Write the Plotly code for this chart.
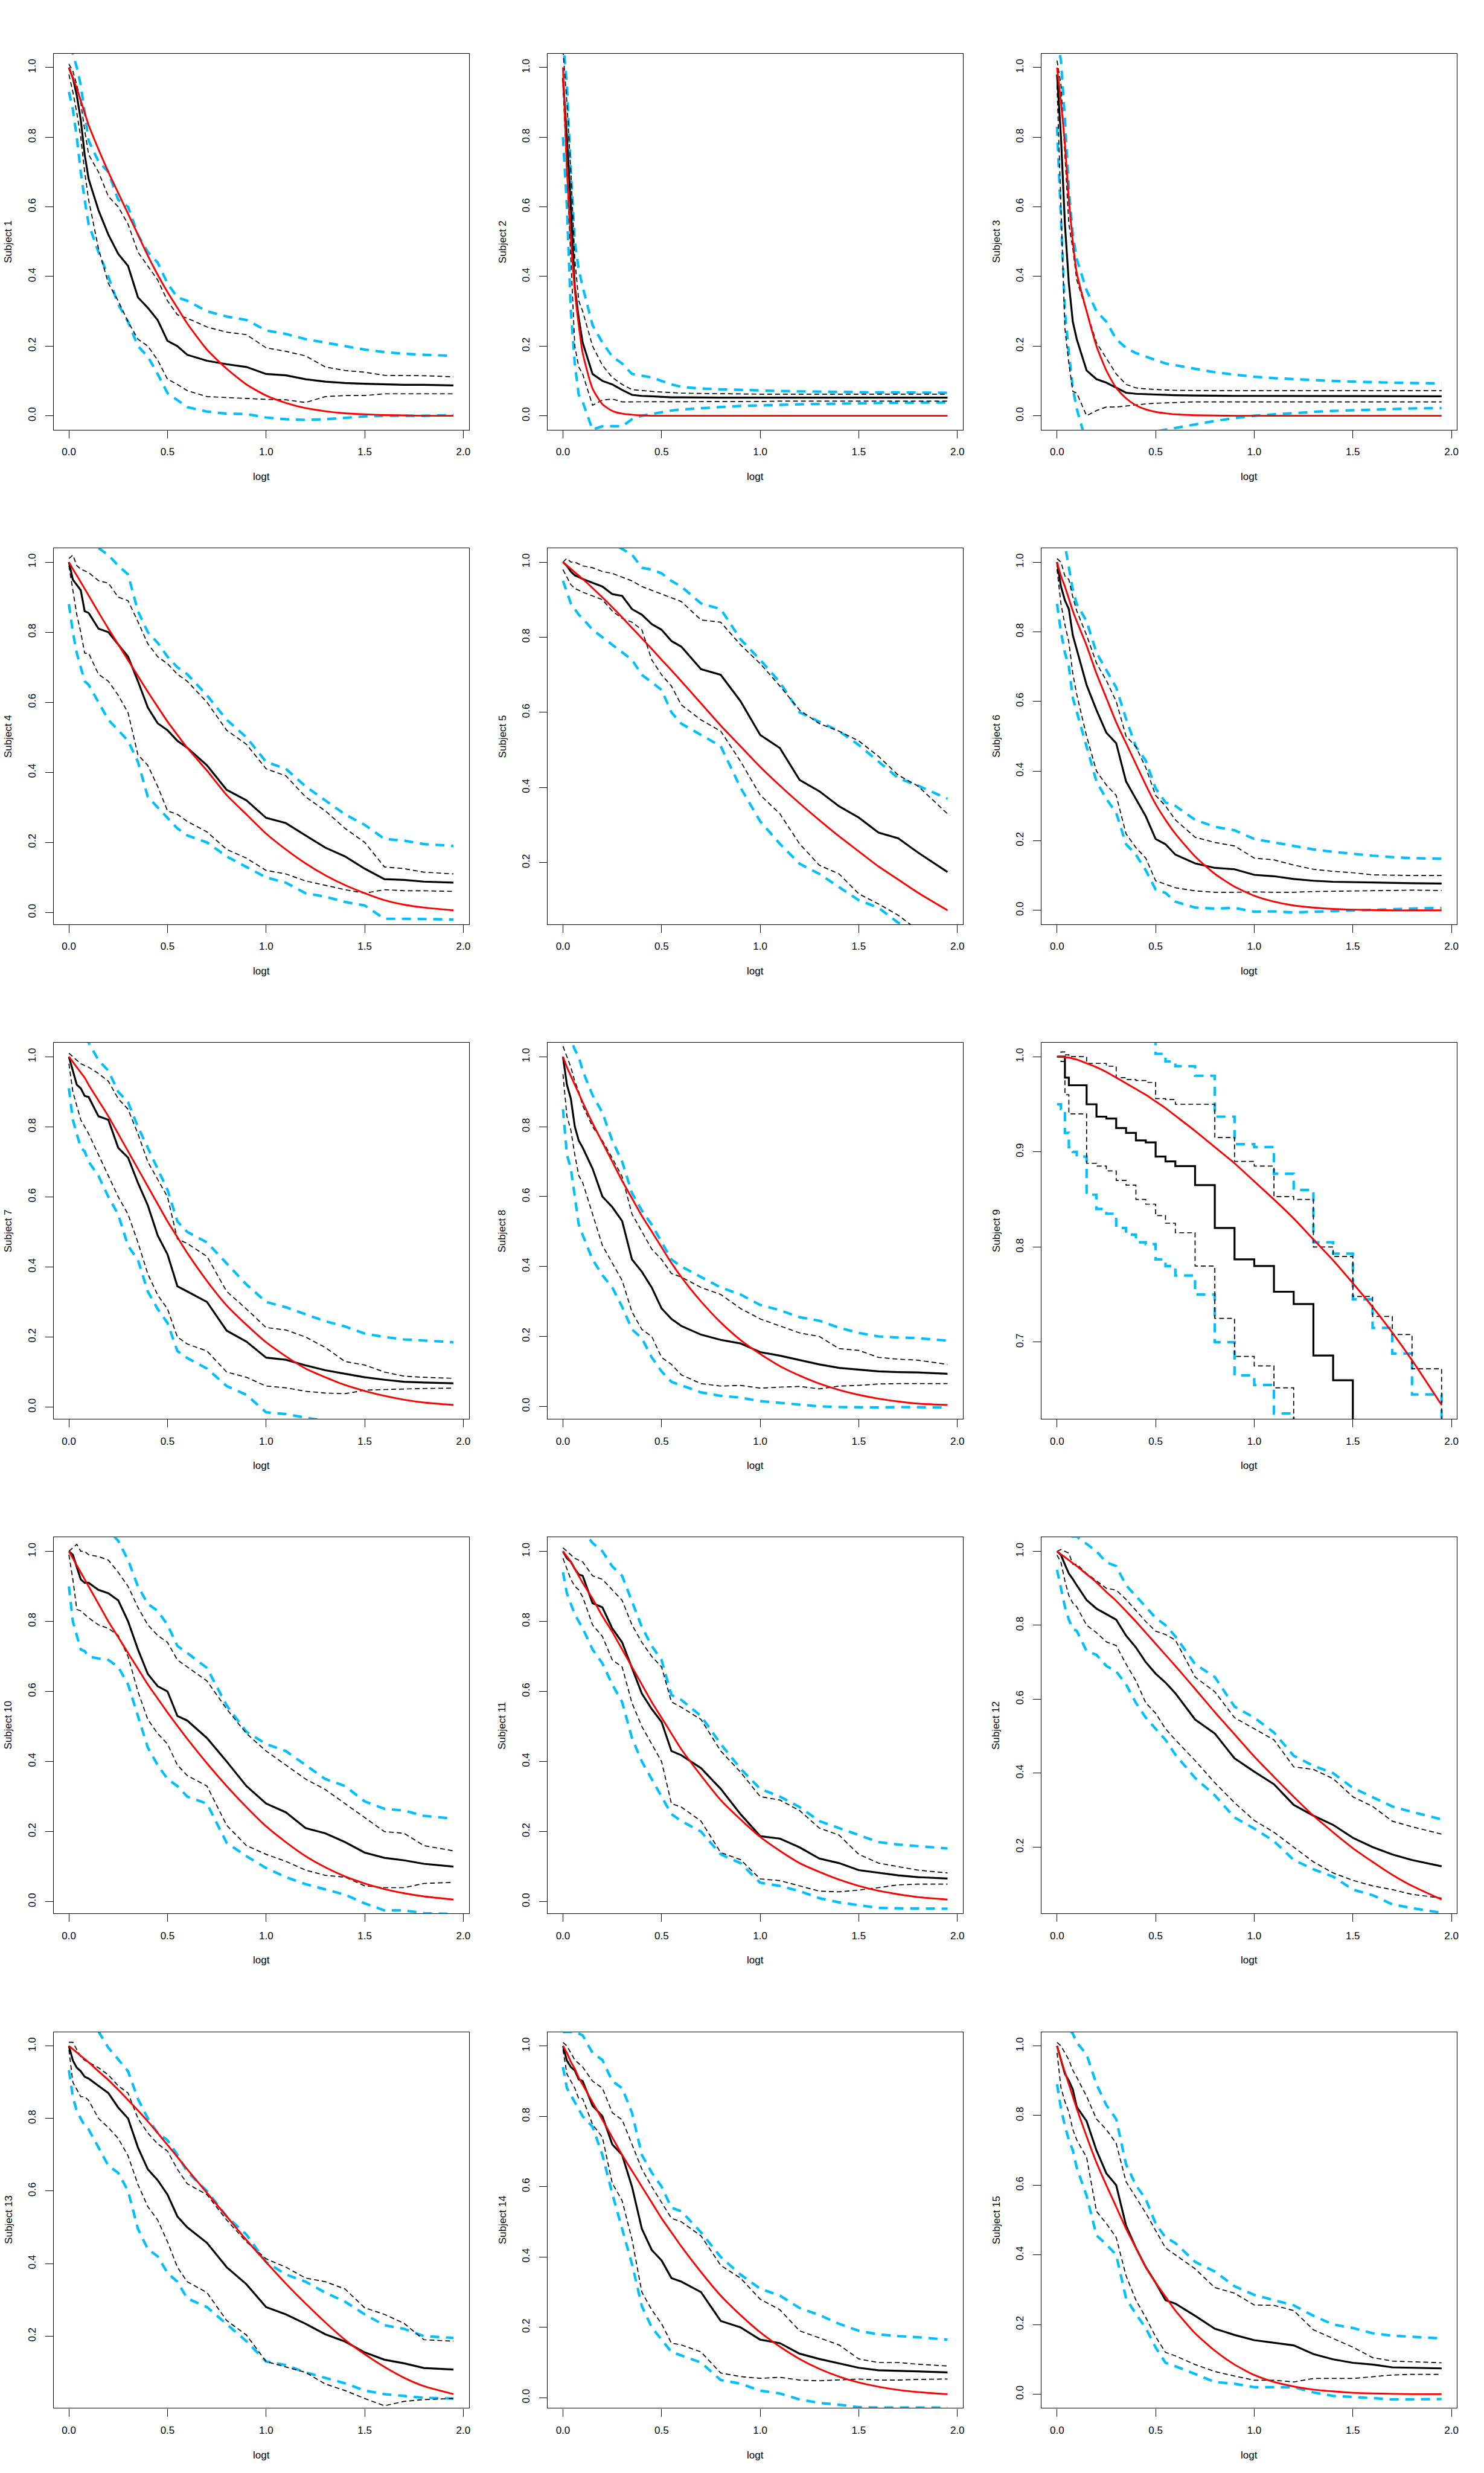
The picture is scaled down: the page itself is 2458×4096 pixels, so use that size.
import plotly.graph_objects as go

# ---------------- data ----------------
X = [0, .02, .04, .06, .08, .10, .15, .20, .25, .30, .35, .40, .45, .50, .55,
     .60, .70, .80, .90, 1.0, 1.1, 1.2, 1.3, 1.4, 1.5, 1.6, 1.7, 1.8, 1.95]
X_TICKS = [0.0, 0.5, 1.0, 1.5, 2.0]
Y_TICKS = [0.0, 0.2, 0.4, 0.6, 0.8, 1.0]
Y_TICKS_FINE = [0.6, 0.7, 0.8, 0.9, 1.0]

# Subject 1
km1 = [1.0, .97, .92, .85, .75, .68, .59, .52, .465, .43, .34, .31, .275, .215, .2, .175, .158, .148, .14, .12, .116, .105, .098, .094, .092, .09, .089, .089, .087]
up1 = [1.01, .99, .95, .9, .82, .75, .7, .63, .6, .55, .47, .43, .39, .33, .29, .28, .255, .24, .233, .195, .185, .172, .14, .13, .125, .116, .115, .115, .112]
lo1 = [.98, .93, .87, .8, .7, .62, .48, .38, .33, .27, .22, .2, .16, .105, .09, .072, .055, .052, .05, .047, .046, .038, .055, .058, .058, .063, .063, .063, .063]
bu1 = [1.06, 1.04, 1.0, .95, .87, .79, .73, .70, .62, .6, .52, .47, .44, .38, .34, .33, .3, .285, .275, .245, .235, .22, .21, .2, .19, .183, .178, .175, .172]
bl1 = [.93, .88, .8, .7, .62, .55, .47, .4, .32, .27, .2, .17, .12, .065, .045, .025, .012, .006, .005, -.005, -.01, -.012, -.01, -.006, -.002, 0, 0, 0, .002]
fit1 = [1.0, .97, .94, .905, .87, .835, .765, .7, .64, .58, .52, .46, .405, .355, .31, .265, .19, .135, .09, .058, .037, .022, .013, .007, .004, .002, .001, 0, 0]

# Subject 2
km2 = [.97, .8, .6, .37, .28, .21, .12, .1, .09, .074, .06, .057, .056, .054, .053, .053, .052, .052, .052, .052, .052, .052, .052, .052, .052, .052, .052, .052, .052]
up2 = [1.05, .9, .7, .45, .33, .3, .2, .145, .11, .09, .075, .072, .07, .068, .066, .065, .064, .063, .063, .062, .062, .062, .062, .062, .062, .062, .062, .062, .062]
lo2 = [.95, .7, .45, .2, .14, .12, .03, .045, .048, .04, .04, .04, .04, .04, .04, .04, .04, .041, .041, .041, .042, .042, .042, .042, .042, .042, .042, .042, .042]
bu2 = [1.08, .95, .7, .5, .42, .37, .26, .21, .17, .15, .12, .115, .11, .1, .09, .083, .078, .076, .074, .072, .071, .07, .069, .068, .068, .067, .067, .066, .066]
bl2 = [.8, .6, .3, .15, .06, .04, -.04, -.03, -.03, -.03, -.01, 0, .005, .01, .015, .018, .022, .025, .028, .03, .031, .033, .034, .035, .036, .037, .037, .038, .038]
fit2 = [1.0, .71, .51, .36, .26, .18, .078, .033, .014, .006, .003, .001, 0, 0, 0, 0, 0, 0, 0, 0, 0, 0, 0, 0, 0, 0, 0, 0, 0]

# Subject 3
km3 = [.98, .8, .55, .38, .27, .22, .13, .105, .095, .08, .066, .063, .062, .06, .06, .059, .058, .057, .057, .057, .057, .057, .056, .056, .056, .056, .056, .056, .056]
up3 = [1.02, .95, .75, .55, .48, .39, .3, .21, .165, .12, .09, .08, .077, .075, .074, .073, .072, .072, .072, .072, .072, .072, .072, .072, .072, .072, .072, .072, .072]
lo3 = [.95, .6, .25, .15, .07, .065, .0, .015, .025, .025, .028, .032, .034, .036, .037, .038, .04, .04, .04, .04, .04, .04, .04, .04, .04, .04, .04, .04, .04]
bu3 = [1.08, 1.02, .85, .65, .52, .45, .36, .3, .27, .22, .195, .18, .17, .16, .15, .145, .135, .125, .118, .112, .108, .105, .102, .1, .098, .096, .095, .094, .093]
bl3 = [.83, .55, .3, .18, .08, .02, -.08, -.08, -.075, -.07, -.065, -.06, -.05, -.045, -.04, -.035, -.025, -.015, -.007, 0, .004, .008, .011, .014, .016, .018, .02, .021, .022]
fit3 = [1.0, .9, .78, .62, .5, .41, .3, .2, .13, .08, .05, .03, .018, .011, .007, .004, .0015, .0005, 0, 0, 0, 0, 0, 0, 0, 0, 0, 0, 0]

# Subject 4
km4 = [1.0, .95, .935, .92, .86, .855, .81, .8, .765, .73, .66, .585, .54, .52, .49, .47, .42, .35, .32, .27, .255, .22, .185, .16, .125, .095, .093, .088, .085]
up4 = [1.01, 1.02, .99, .98, .975, .97, .947, .94, .9, .89, .83, .767, .73, .71, .68, .66, .6, .52, .48, .41, .39, .33, .29, .24, .2, .13, .125, .115, .11]
lo4 = [.99, .92, .85, .8, .74, .74, .68, .66, .62, .57, .45, .42, .36, .29, .28, .26, .23, .18, .155, .12, .11, .09, .078, .065, .055, .065, .062, .062, .06]
bu4 = [1.06, 1.06, 1.05, 1.05, 1.05, 1.05, 1.04, 1.02, .99, .965, .86, .8, .77, .73, .7, .68, .62, .55, .5, .43, .41, .36, .32, .28, .25, .21, .205, .195, .19]
bl4 = [.88, .8, .74, .7, .66, .65, .6, .55, .52, .49, .43, .33, .3, .27, .24, .22, .2, .16, .13, .1, .085, .055, .045, .03, .02, -.018, -.018, -.019, -.02]
fit4 = [1.0, .98, .962, .943, .924, .905, .857, .81, .765, .72, .675, .63, .587, .545, .507, .47, .405, .335, .28, .225, .18, .14, .106, .078, .055, .035, .022, .014, .006]

# Subject 5
km5 = [1.0, .99, .975, .965, .96, .955, .945, .935, .915, .91, .875, .86, .835, .82, .79, .775, .715, .7, .63, .54, .505, .42, .39, .35, .32, .28, .265, .227, .175]
up5 = [1.0, 1.01, 1.0, 1.0, .995, .99, .985, .975, .97, .96, .95, .935, .925, .915, .905, .895, .846, .84, .78, .73, .67, .606, .57, .55, .524, .483, .433, .404, .33]
lo5 = [.98, .96, .94, .93, .925, .92, .91, .9, .87, .85, .84, .82, .74, .7, .67, .62, .58, .55, .47, .38, .33, .25, .193, .17, .117, .09, .06, .02, 0.0]
bu5 = [1.1, 1.1, 1.1, 1.1, 1.1, 1.1, 1.08, 1.07, 1.05, 1.035, 1.02, .985, .98, .97, .95, .935, .89, .875, .795, .74, .68, .6, .575, .55, .513, .47, .425, .405, .37]
bl5 = [.95, .92, .89, .875, .86, .85, .82, .8, .78, .76, .74, .7, .68, .66, .6, .57, .54, .51, .4, .31, .25, .197, .17, .135, .1, .08, .04, .02, 0.0]
fit5 = [1.0, .991, .982, .973, .964, .955, .931, .906, .88, .853, .825, .797, .769, .74, .712, .683, .624, .565, .51, .455, .405, .358, .313, .27, .23, .19, .155, .12, .073]

# Subject 6
km6 = [1.0, .93, .89, .865, .79, .75, .647, .575, .51, .48, .37, .32, .27, .205, .19, .16, .135, .122, .118, .102, .098, .09, .085, .082, .081, .079, .078, .078, .077]
up6 = [1.01, 1.0, .96, .95, .9, .86, .79, .71, .66, .6, .5, .47, .41, .33, .3, .26, .21, .195, .185, .15, .145, .13, .118, .112, .108, .102, .101, .1, .1]
lo6 = [.98, .88, .82, .77, .68, .62, .5, .4, .36, .33, .22, .18, .15, .085, .075, .065, .056, .052, .052, .053, .052, .052, .054, .055, .056, .057, .058, .058, .057]
bu6 = [1.06, 1.06, 1.05, .98, .92, .88, .83, .74, .69, .64, .55, .47, .43, .35, .31, .3, .26, .24, .23, .205, .195, .185, .175, .168, .162, .157, .153, .15, .148]
bl6 = [.88, .8, .74, .7, .61, .57, .47, .37, .32, .28, .19, .16, .115, .06, .05, .025, .008, .005, .007, -.004, -.003, -.006, -.004, -.002, 0, .002, .003, .005, .007]
fit6 = [1.0, .96, .93, .895, .86, .83, .76, .68, .61, .54, .48, .42, .36, .305, .26, .22, .155, .105, .068, .042, .025, .014, .008, .004, .002, .001, 0, 0, 0]

# Subject 7
km7 = [1.0, .96, .92, .91, .888, .885, .83, .82, .74, .712, .64, .576, .49, .436, .345, .33, .3, .218, .187, .141, .135, .119, .105, .095, .085, .078, .072, .07, .068]
up7 = [1.01, 1.0, .99, .98, .975, .97, .952, .93, .88, .85, .78, .7, .65, .6, .48, .467, .43, .33, .28, .227, .22, .2, .17, .13, .12, .1, .088, .085, .082]
lo7 = [.98, .9, .86, .82, .8, .78, .72, .66, .6, .55, .47, .38, .32, .28, .2, .18, .16, .1, .085, .06, .055, .045, .04, .038, .048, .05, .052, .053, .054]
bu7 = [1.06, 1.06, 1.06, 1.05, 1.05, 1.04, .99, .96, .9, .87, .8, .74, .68, .62, .53, .5, .47, .41, .35, .3, .285, .265, .245, .23, .21, .2, .193, .19, .185]
bl7 = [.91, .82, .78, .74, .73, .7, .66, .6, .55, .46, .42, .33, .28, .24, .16, .14, .11, .06, .035, -.015, -.02, -.03, -.04, -.05, -.05, -.05, -.05, -.05, -.05]
fit7 = [1.0, .985, .97, .955, .94, .92, .875, .83, .78, .73, .68, .63, .58, .53, .485, .44, .36, .29, .235, .185, .145, .11, .085, .063, .046, .032, .021, .013, .006]

# Subject 8
km8 = [1.0, .92, .88, .8, .76, .74, .68, .6, .57, .53, .42, .385, .34, .28, .25, .23, .205, .19, .18, .155, .145, .133, .12, .11, .105, .1, .098, .097, .093]
up8 = [1.03, 1.0, .97, .93, .9, .86, .8, .76, .71, .657, .55, .5, .45, .42, .38, .37, .34, .32, .28, .25, .23, .21, .2, .165, .16, .14, .135, .132, .12]
lo8 = [.95, .83, .79, .72, .66, .64, .55, .46, .41, .36, .27, .22, .2, .14, .12, .09, .065, .058, .06, .052, .055, .057, .05, .058, .06, .064, .065, .065, .065]
bu8 = [1.06, 1.06, 1.05, 1.02, 1.0, .96, .89, .84, .76, .7, .61, .56, .52, .47, .42, .4, .37, .34, .32, .29, .275, .255, .245, .225, .21, .2, .197, .195, .188]
bl8 = [.85, .72, .68, .6, .52, .49, .42, .375, .34, .285, .22, .195, .14, .1, .07, .06, .04, .03, .025, .015, .01, .005, 0, -.002, -.003, -.003, -.002, -.002, -.003]
fit8 = [1.0, .97, .945, .92, .895, .87, .81, .755, .7, .645, .595, .545, .5, .455, .41, .37, .3, .24, .19, .15, .115, .088, .065, .047, .033, .022, .014, .008, .004]

# Subject 9
km9 = [1.0, 1.0, .978, .97, .97, .97, .95, .937, .935, .925, .92, .912, .91, .895, .89, .885, .865, .82, .787, .78, .753, .74, .686, .66, .61, .6, .59, .58, .57]
up9 = [1.0, 1.005, 1.002, 1.0, 1.0, 1.0, .993, .993, .99, .978, .976, .975, .973, .956, .955, .95, .95, .915, .89, .885, .853, .85, .8, .79, .748, .727, .708, .672, .55]
lo9 = [1.0, .995, .96, .94, .94, .94, .888, .885, .88, .87, .865, .85, .845, .833, .825, .815, .78, .725, .685, .675, .652, .61, .6, .59, .58, .57, .56, .55, .54]
bu9 = [1.05, 1.05, 1.05, 1.05, 1.05, 1.05, 1.05, 1.05, 1.05, 1.05, 1.05, 1.05, 1.02, 1.003, .995, .99, .98, .937, .908, .905, .877, .86, .805, .793, .745, .715, .688, .645, .55]
bl9 = [.95, .945, .92, .905, .9, .895, .855, .84, .835, .82, .813, .805, .803, .787, .78, .77, .75, .7, .665, .655, .625, .6, .58, .57, .56, .55, .54, .53, .52]
fit9 = [1.0, 1.0, .9995, .999, .998, .997, .993, .989, .984, .978, .972, .966, .96, .953, .946, .938, .922, .905, .888, .869, .85, .83, .808, .786, .762, .737, .71, .681, .634]

# Subject 10
km10 = [1.0, .99, .955, .92, .91, .91, .89, .88, .86, .8, .72, .65, .615, .6, .53, .517, .467, .4, .33, .28, .255, .21, .195, .17, .14, .125, .118, .108, .1]
up10 = [1.0, 1.01, 1.02, 1.0, 1.0, .99, .985, .975, .94, .9, .84, .79, .76, .74, .69, .67, .63, .55, .48, .43, .39, .35, .32, .28, .24, .2, .195, .16, .145]
lo10 = [.99, .92, .834, .83, .82, .81, .79, .78, .76, .7, .6, .52, .48, .45, .39, .36, .33, .218, .16, .135, .115, .09, .075, .07, .045, .04, .04, .052, .055]
bu10 = [1.06, 1.06, 1.06, 1.06, 1.06, 1.06, 1.06, 1.06, 1.03, .975, .9, .85, .83, .79, .73, .71, .667, .56, .485, .45, .43, .39, .35, .33, .286, .265, .26, .245, .237]
bl10 = [.9, .8, .76, .72, .715, .7, .694, .69, .67, .62, .53, .44, .39, .35, .33, .3, .28, .168, .13, .096, .07, .05, .035, .02, -.005, -.025, -.025, -.033, -.035]
fit10 = [1.0, .98, .96, .94, .92, .9, .85, .8, .755, .71, .665, .62, .58, .54, .502, .465, .395, .33, .27, .215, .17, .13, .098, .072, .052, .036, .024, .015, .006]

# Subject 11
km11 = [1.0, .98, .97, .95, .934, .93, .852, .84, .78, .74, .667, .594, .55, .513, .43, .418, .381, .322, .25, .187, .18, .155, .123, .11, .09, .083, .075, .07, .066]
up11 = [1.01, 1.0, .99, .98, .975, .97, .93, .92, .89, .86, .79, .74, .7, .67, .57, .555, .52, .43, .37, .3, .29, .26, .21, .19, .135, .11, .1, .09, .082]
lo11 = [.98, .95, .92, .9, .89, .87, .79, .757, .69, .67, .567, .5, .45, .4, .28, .27, .23, .14, .12, .065, .06, .045, .03, .028, .033, .04, .048, .05, .05]
bu11 = [1.06, 1.06, 1.06, 1.06, 1.06, 1.06, 1.024, 1.0, .957, .93, .857, .784, .73, .69, .59, .576, .53, .45, .38, .322, .3, .27, .23, .21, .19, .17, .163, .158, .152]
bl11 = [.94, .88, .85, .82, .8, .78, .72, .68, .62, .57, .467, .4, .35, .3, .25, .23, .2, .135, .11, .054, .045, .03, .01, -.002, -.01, -.018, -.019, -.02, -.02]
fit11 = [1.0, .985, .97, .95, .93, .91, .865, .815, .77, .72, .67, .62, .57, .525, .48, .435, .36, .29, .235, .185, .145, .11, .085, .063, .045, .031, .021, .013, .006]

# Subject 12
km12 = [1.0, .99, .964, .94, .925, .908, .868, .845, .83, .815, .772, .74, .7, .669, .645, .616, .545, .507, .44, .404, .37, .314, .285, .26, .225, .2, .18, .165, .148]
up12 = [1.0, 1.005, 1.0, .995, .965, .965, .94, .92, .9, .895, .87, .84, .81, .784, .775, .76, .66, .62, .55, .52, .49, .417, .41, .385, .336, .31, .27, .255, .235]
lo12 = [.99, .97, .92, .88, .86, .85, .8, .78, .755, .745, .695, .65, .59, .562, .52, .49, .434, .374, .32, .272, .24, .2, .16, .13, .11, .095, .085, .072, .062]
bu12 = [1.05, 1.05, 1.04, 1.04, 1.04, 1.04, 1.02, 1.0, .97, .96, .908, .88, .85, .82, .8, .77, .695, .66, .58, .55, .51, .447, .42, .4, .36, .335, .31, .295, .275]
bl12 = [.95, .9, .85, .815, .79, .785, .73, .72, .69, .675, .64, .59, .55, .52, .49, .45, .387, .34, .28, .25, .216, .165, .14, .12, .085, .07, .045, .035, .022]
fit12 = [1.0, .992, .984, .976, .968, .96, .938, .916, .89, .866, .838, .81, .78, .75, .72, .69, .628, .565, .505, .445, .39, .336, .285, .24, .197, .16, .125, .095, .058]

# Subject 13
km13 = [1.0, .96, .94, .93, .915, .91, .89, .87, .83, .8, .72, .66, .63, .59, .53, .5, .457, .39, .343, .28, .26, .234, .205, .185, .155, .135, .125, .112, .108]
up13 = [1.01, 1.01, .99, .97, .96, .955, .94, .92, .89, .87, .8, .76, .73, .71, .66, .62, .59, .52, .46, .413, .39, .36, .35, .33, .278, .26, .235, .19, .186]
lo13 = [.99, .9, .88, .86, .86, .85, .8, .775, .745, .697, .618, .557, .52, .46, .39, .35, .32, .243, .203, .13, .115, .1, .068, .05, .028, .008, .02, .025, .028]
bu13 = [1.06, 1.06, 1.06, 1.06, 1.06, 1.06, 1.04, .995, .963, .93, .854, .8, .76, .74, .7, .653, .6, .53, .48, .404, .37, .35, .32, .295, .26, .23, .22, .2, .195]
bl13 = [.933, .86, .82, .8, .78, .77, .72, .67, .65, .6, .496, .44, .42, .374, .35, .304, .28, .234, .186, .13, .12, .1, .085, .07, .05, .04, .035, .03, .028]
fit13 = [1.0, .991, .982, .973, .964, .955, .93, .906, .879, .851, .822, .792, .76, .727, .694, .66, .595, .53, .465, .404, .345, .29, .238, .19, .15, .115, .085, .062, .04]

# Subject 14
km14 = [1.0, .958, .94, .93, .905, .9, .83, .8, .72, .69, .6, .48, .42, .39, .34, .33, .3, .218, .2, .165, .155, .125, .11, .098, .085, .078, .076, .074, .072]
up14 = [1.01, 1.0, .98, .96, .95, .94, .9, .88, .81, .79, .72, .65, .6, .556, .51, .5, .46, .376, .34, .28, .25, .19, .17, .15, .11, .1, .1, .095, .09]
lo14 = [.99, .92, .9, .88, .85, .85, .777, .74, .61, .56, .45, .3, .25, .21, .155, .15, .13, .07, .06, .055, .058, .05, .048, .05, .053, .05, .05, .052, .053]
bu14 = [1.04, 1.04, 1.04, 1.035, 1.035, 1.03, .98, .96, .9, .88, .81, .69, .64, .6, .54, .53, .47, .4, .35, .31, .29, .255, .235, .21, .19, .18, .175, .172, .165]
bl14 = [.94, .88, .86, .84, .82, .8, .77, .69, .58, .48, .38, .26, .2, .165, .13, .12, .1, .05, .04, .02, .012, -.005, -.015, -.02, -.027, -.028, -.028, -.028, -.028]
fit14 = [1.0, .98, .955, .935, .91, .89, .84, .79, .74, .69, .645, .6, .555, .51, .47, .43, .357, .29, .235, .186, .145, .11, .082, .06, .043, .031, .022, .016, .01]

# Subject 15
km15 = [1.0, .96, .92, .9, .875, .825, .784, .7, .634, .6, .484, .42, .365, .32, .27, .26, .225, .188, .17, .155, .147, .14, .115, .1, .09, .085, .077, .076, .074]
up15 = [1.01, 1.0, .98, .96, .93, .91, .855, .79, .76, .72, .61, .565, .52, .47, .42, .4, .36, .306, .29, .256, .255, .24, .185, .16, .135, .105, .095, .093, .09]
lo15 = [.98, .88, .84, .81, .76, .73, .68, .525, .49, .45, .34, .27, .22, .165, .12, .11, .085, .065, .052, .04, .04, .035, .045, .045, .045, .05, .055, .057, .057]
bu15 = [1.06, 1.06, 1.06, 1.05, 1.035, 1.01, .975, .89, .83, .79, .66, .6, .56, .49, .45, .434, .38, .352, .31, .285, .27, .255, .225, .2, .19, .175, .168, .165, .16]
bl15 = [.89, .82, .77, .73, .7, .65, .57, .456, .43, .4, .275, .23, .19, .134, .09, .08, .058, .035, .03, .02, .02, .02, .005, -.005, -.008, -.012, -.015, -.015, -.014]
fit15 = [1.0, .96, .925, .89, .855, .82, .74, .665, .6, .538, .475, .42, .365, .32, .28, .24, .175, .125, .085, .055, .035, .022, .013, .008, .004, .002, .001, 0, 0]

SUBJECTS = [
    (km1, up1, lo1, bu1, bl1, fit1), (km2, up2, lo2, bu2, bl2, fit2), (km3, up3, lo3, bu3, bl3, fit3),
    (km4, up4, lo4, bu4, bl4, fit4), (km5, up5, lo5, bu5, bl5, fit5), (km6, up6, lo6, bu6, bl6, fit6),
    (km7, up7, lo7, bu7, bl7, fit7), (km8, up8, lo8, bu8, bl8, fit8), (km9, up9, lo9, bu9, bl9, fit9),
    (km10, up10, lo10, bu10, bl10, fit10), (km11, up11, lo11, bu11, bl11, fit11), (km12, up12, lo12, bu12, bl12, fit12),
    (km13, up13, lo13, bu13, bl13, fit13), (km14, up14, lo14, bu14, bl14, fit14), (km15, up15, lo15, bu15, bl15, fit15),
]
STEPPED = {9}   # subjects whose coarse steps are clearly visible in the picture

# ---------------- geometry / style ----------------
W, H = 2458, 4096
RW, RH = 2880.0, 4800.0          # reference canvas
CELL = 960.0                     # reference cell size
BOX_L, BOX_R, BOX_T, BOX_B = 104.0, 911.0, 104.0, 834.0
FONT = dict(family="Liberation Sans, Arial, sans-serif", size=17, color="black")

BLUE = "#00BFFF"
fig = go.Figure()
annotations = []
layout = {}

xmin, xmax = min(X), max(X)
xpad = 0.04 * (xmax - xmin)
xrange_ = [xmin - xpad, xmax + xpad]

for i, (km, up, lo, bu, bl, fit) in enumerate(SUBJECTS):
    r, c = divmod(i, 3)
    n = i + 1
    xa = "x" if n == 1 else f"x{n}"
    ya = "y" if n == 1 else f"y{n}"
    step = "hv" if n in STEPPED else "linear"

    styles = [
        (bu, BLUE, 4.2, "15px,11px", step),
        (bl, BLUE, 4.2, "15px,11px", step),
        (up, "black", 1.7, "8px,5px", step),
        (lo, "black", 1.7, "8px,5px", step),
        (km, "black", 3.2, "solid", step),
        (fit, "red", 2.9, "solid", "spline"),
    ]
    for ys, col, wd, dash, shape in styles:
        line = dict(color=col, width=wd, dash=dash, shape=shape)
        if shape == "spline":
            line["smoothing"] = 0.6
        fig.add_trace(go.Scatter(x=X, y=ys, mode="lines", line=line, xaxis=xa, yaxis=ya,
                                 showlegend=False, hoverinfo="skip"))

    lo_f, hi_f = min(fit), max(fit)
    ypad = 0.04 * (hi_f - lo_f)
    yr = [lo_f - ypad, hi_f + ypad]
    yt = Y_TICKS_FINE if (hi_f - lo_f) < 0.5 else Y_TICKS

    x0 = (c * CELL + BOX_L) / RW
    x1 = (c * CELL + BOX_R) / RW
    ytop = 1 - (r * CELL + BOX_T) / RH
    ybot = 1 - (r * CELL + BOX_B) / RH

    common = dict(showline=True, mirror=True, linecolor="black", linewidth=1.3,
                  ticks="outside", ticklen=13, tickwidth=1.2, tickcolor="black",
                  showgrid=False, zeroline=False, tickfont=FONT, tickformat=".1f")
    layout["xaxis" if n == 1 else f"xaxis{n}"] = dict(
        domain=[x0, x1], range=xrange_, anchor=ya, tickvals=X_TICKS,
        ticklabelstandoff=8, **common)
    layout["yaxis" if n == 1 else f"yaxis{n}"] = dict(
        domain=[ybot, ytop], range=yr, anchor=xa, tickvals=yt, tickangle=-90,
        ticklabelstandoff=9, **common)

    annotations.append(dict(text="logt", xref="paper", yref="paper",
                            x=(c * CELL + (BOX_L + BOX_R) / 2) / RW,
                            y=1 - (r * CELL + 925) / RH,
                            xanchor="center", yanchor="middle", showarrow=False, font=FONT))
    annotations.append(dict(text=f"Subject {n}", xref="paper", yref="paper",
                            x=(c * CELL + 16) / RW,
                            y=1 - (r * CELL + (BOX_T + BOX_B) / 2) / RH,
                            xanchor="center", yanchor="middle", textangle=-90,
                            showarrow=False, font=FONT))

fig.update_layout(width=W, height=H, margin=dict(l=0, r=0, t=0, b=0),
                  paper_bgcolor="white", plot_bgcolor="white",
                  annotations=annotations, font=FONT, **layout)

fig.write_html("out.html")
